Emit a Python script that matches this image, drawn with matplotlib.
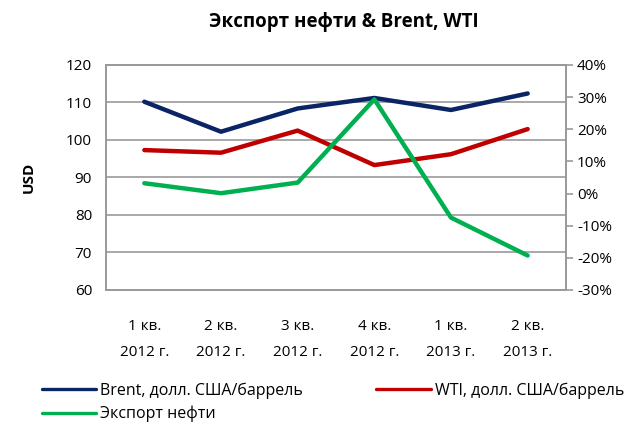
import matplotlib
matplotlib.use("Agg")
import matplotlib.pyplot as plt
from matplotlib.ticker import FuncFormatter

# data
quarters = ["1 кв.\n2012 г.", "2 кв.\n2012 г.", "3 кв.\n2012 г.",
            "4 кв.\n2012 г.", "1 кв.\n2013 г.", "2 кв.\n2013 г."]
brent = [110.2, 102.2, 108.4, 111.2, 108.0, 112.4]
wti = [97.3, 96.6, 102.5, 93.3, 96.2, 102.9]
export_pct = [3.2, 0.1, 3.4, 29.3, -7.5, -19.3]

left_ticks = [60, 70, 80, 90, 100, 110, 120]
right_ticks = [-30, -20, -10, 0, 10, 20, 30, 40]

sans = ["Open Sans", "DejaVu Sans"]
grid_col = "#999999"

fig = plt.figure(figsize=(6.31, 4.22), dpi=100)
ax = fig.add_axes([0.168, 0.313, 0.729, 0.533])
ax2 = ax.twinx()

x = list(range(len(quarters)))
l1, = ax.plot(x, brent, color="#0B2465", lw=3.2, solid_capstyle="round",
              label="Brent, долл. США/баррель")
l2, = ax.plot(x, wti, color="#C00000", lw=3.2, solid_capstyle="round",
              label="WTI, долл. США/баррель")
l3, = ax2.plot(x, export_pct, color="#00B050", lw=3.2, solid_capstyle="round",
               label="Экспорт нефти")

ax.set_xlim(-0.5, len(quarters) - 0.5)
ax.set_ylim(60, 120)
ax.set_yticks(left_ticks)
ax.yaxis.grid(True, color=grid_col, lw=1.2)
ax.set_axisbelow(True)
ax.tick_params(axis="y", length=0, pad=10, labelsize=11)
ax.set_xticks(x)
ax.set_xticklabels(quarters, family=sans, fontsize=11, linespacing=2.0)
ax.tick_params(axis="x", length=0, pad=21)
for lab in ax.get_yticklabels():
    lab.set_family(sans)
ax.set_ylabel("USD", family=sans, fontsize=11, fontweight="bold", labelpad=22)

ax2.set_ylim(-30, 40)
ax2.set_yticks(right_ticks)
ax2.yaxis.set_major_formatter(FuncFormatter(lambda v, p: f"{int(v)}%"))
ax2.tick_params(axis="y", length=5, color=grid_col, width=1.2, pad=3, labelsize=11)
for lab in ax2.get_yticklabels():
    lab.set_family(sans)

for a in (ax, ax2):
    for s in a.spines.values():
        s.set_color(grid_col)
        s.set_linewidth(1.2)

fig.text(0.545, 0.948, "Экспорт нефти & Brent, WTI", ha="center", va="center",
         family=sans, fontsize=13.5, fontweight="bold")

leg = fig.legend([l1, l3, l2], [l1.get_label(), l3.get_label(), l2.get_label()],
                 loc="upper left", bbox_to_anchor=(0.066, 0.094), ncol=2,
                 frameon=False, handlelength=3.4, handletextpad=0.25,
                 columnspacing=4.6, labelspacing=0.45, borderaxespad=0,
                 borderpad=0, prop={"family": sans, "size": 11.5})
for h in leg.legend_handles:
    h.set_linewidth(2.4)

fig.savefig("out.png", dpi=100)
